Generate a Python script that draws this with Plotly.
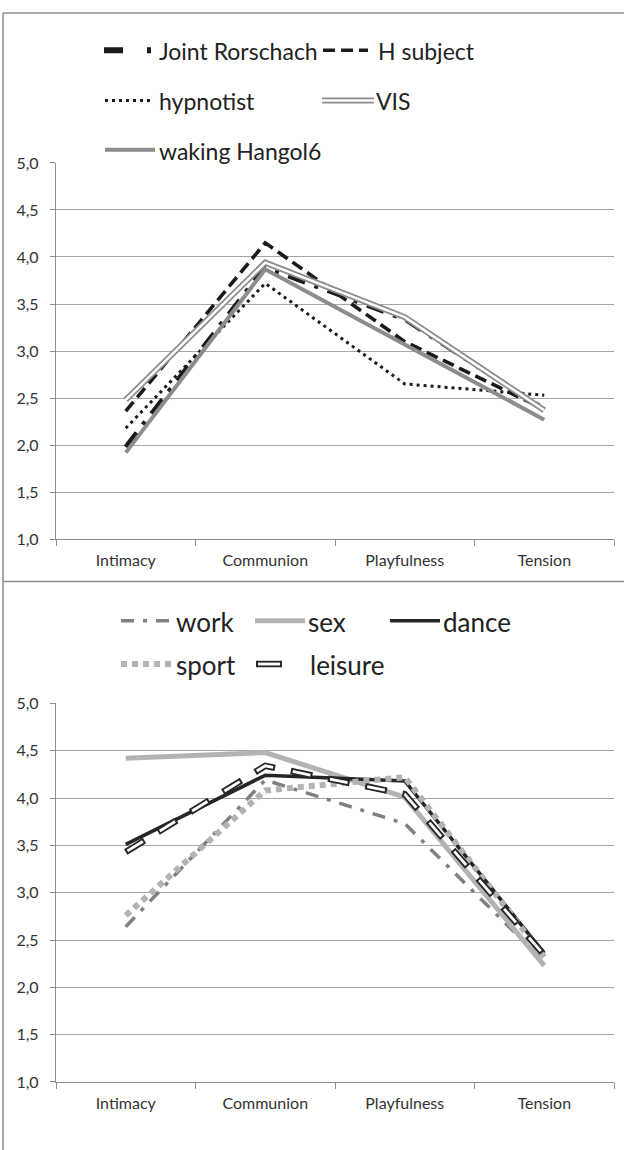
import plotly.graph_objects as go

categories = ["Intimacy", "Communion", "Playfulness", "Tension"]

# top panel series
joint_rorschach = [1.98, 3.89, 3.34, 2.38]
h_subject = [2.36, 4.15, 3.10, 2.38]
hypnotist = [2.18, 3.72, 2.65, 2.53]
vis = [2.48, 3.94, 3.36, 2.37]
waking_hangol6 = [1.92, 3.87, 3.07, 2.27]

# bottom panel series
work = [2.64, 4.19, 3.73, 2.27]
sex = [4.42, 4.48, 4.01, 2.23]
dance = [3.51, 4.24, 4.18, 2.36]
sport = [2.76, 4.08, 4.22, 2.32]
leisure = [3.43, 4.34, 4.04, 2.34]

y_ticks = [1.0, 1.5, 2.0, 2.5, 3.0, 3.5, 4.0, 4.5, 5.0]

W, H = 624, 1150
FONT = "Lato"


def px(x):
    return x / W


def py(y):
    return 1 - y / H


fig = go.Figure()

top_series = [
    ("Joint Rorschach", joint_rorschach, [("#1a1a1a", 5.0, "18px,10px,4px,10px")]),
    ("H subject", h_subject, [("#1a1a1a", 3.6, "12px,6px")]),
    ("hypnotist", hypnotist, [("#1a1a1a", 3.0, "3px,4px")]),
    ("VIS", vis, [("#8c8c8c", 6.0, "solid"), ("#ffffff", 2.5, "solid")]),
    ("waking Hangol6", waking_hangol6, [("#8c8c8c", 4.0, "solid")]),
]
bottom_series = [
    ("work", work, [("#808080", 3.5, "13px,9px,4px,9px")]),
    ("sex", sex, [("#b3b3b3", 5.0, "solid")]),
    ("dance", dance, [("#262626", 3.6, "solid")]),
    ("sport", sport, [("#b3b3b3", 6.0, "6px,5px")]),
    ("leisure", leisure, [("#262626", 6.5, "22px,16px"), ("#ffffff", 2.8, "0px,2px,18px,18px")]),
]

for name, vals, layers in top_series:
    for col, w, d in layers:
        fig.add_trace(go.Scatter(x=categories, y=vals, mode="lines", name=name,
                                 line=dict(color=col, width=w, dash=d),
                                 showlegend=False, xaxis="x", yaxis="y"))
for name, vals, layers in bottom_series:
    for col, w, d in layers:
        fig.add_trace(go.Scatter(x=categories, y=vals, mode="lines", name=name,
                                 line=dict(color=col, width=w, dash=d),
                                 showlegend=False, xaxis="x2", yaxis="y2"))

x_dom = [px(56), px(614)]
axis_common = dict(type="category", range=[-0.5, 3.5], showgrid=False, showline=True,
                   linecolor="#8c8c8c", linewidth=1.3, ticks="outside", tickson="boundaries",
                   ticklen=6, tickcolor="#8c8c8c", tickwidth=1.3,
                   tickfont=dict(family=FONT, size=16, color="#333333"),
                   ticklabelstandoff=7, fixedrange=True)
yaxis_common = dict(range=[1, 5], tickvals=y_ticks, tickformat=".1f", showgrid=True,
                    gridcolor="#a6a6a6", gridwidth=1.4, showline=True, linecolor="#8c8c8c",
                    linewidth=1.3, ticks="outside", ticklen=5, tickcolor="#8c8c8c",
                    tickwidth=1.3, zeroline=False,
                    tickfont=dict(family=FONT, size=16, color="#333333"),
                    ticklabelstandoff=8, fixedrange=True)

shapes = []
annotations = []


def legend_item(x0, x1, y, layers, text, tx, size):
    for col, w, d in layers:
        shapes.append(dict(type="line", xref="paper", yref="paper",
                           x0=px(x0), x1=px(x1), y0=py(y), y1=py(y),
                           line=dict(color=col, width=w, dash=d)))
    annotations.append(dict(text=text, xref="paper", yref="paper", x=px(tx), y=py(y + 1),
                            xanchor="left", yanchor="middle", showarrow=False,
                            font=dict(family=FONT, size=size, color="#222222")))


TS = 23
legend_item(104, 151, 41, [("#1a1a1a", 6.0, "19px,24px,4px,20px")], "Joint Rorschach", 157, TS)
legend_item(323, 368, 41, top_series[1][2], "H subject", 376, TS)
legend_item(105, 150, 92, top_series[2][2], "hypnotist", 157, TS)
legend_item(322, 374, 92, top_series[3][2], "VIS", 374, TS)
legend_item(105, 155, 142, top_series[4][2], "waking Hangol6", 157, TS)

BS = 26
legend_item(121, 174, 621, bottom_series[0][2], "work", 174, BS)
legend_item(255, 305, 621, bottom_series[1][2], "sex", 306, BS)
legend_item(390, 440, 621, bottom_series[2][2], "dance", 441, BS)
legend_item(121, 172, 665, bottom_series[3][2], "sport", 174, BS)
legend_item(256, 282, 665, [("#262626", 6.5, "solid"), ("#ffffff", 2.8, "solid")], "leisure", 308, BS)
shapes[-1]["x0"] = px(258)
shapes[-1]["x1"] = px(280)

frame = dict(color="#8c8c8c", width=1.5)
shapes.append(dict(type="line", xref="paper", yref="paper", x0=px(3), x1=1.01, y0=py(3), y1=py(3), line=frame))
shapes.append(dict(type="line", xref="paper", yref="paper", x0=px(3), x1=px(3), y0=py(3), y1=-0.01, line=frame))
shapes.append(dict(type="line", xref="paper", yref="paper", x0=px(3), x1=1.01, y0=py(581), y1=py(581), line=frame))

fig.update_layout(
    width=W, height=H,
    margin=dict(l=0, r=0, t=0, b=0),
    paper_bgcolor="white", plot_bgcolor="white",
    separators=", ",
    font=dict(family=FONT),
    xaxis=dict(domain=x_dom, anchor="y", **axis_common),
    yaxis=dict(domain=[py(538), py(155.5)], anchor="x", **yaxis_common),
    xaxis2=dict(domain=x_dom, anchor="y2", **axis_common),
    yaxis2=dict(domain=[py(1090), py(705)], anchor="x2", **yaxis_common),
    shapes=shapes,
    annotations=annotations,
    showlegend=False,
)

fig.write_html("out.html", config={"displayModeBar": False},
               post_script="document.body.style.margin='0';document.body.style.padding='0';document.body.style.overflow='hidden';")
